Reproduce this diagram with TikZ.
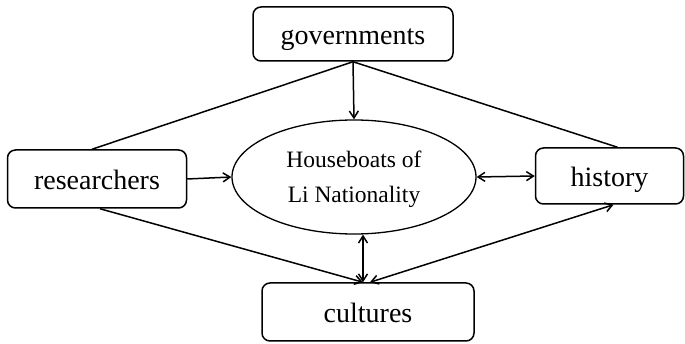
\documentclass[tikz,border=0pt]{standalone}
\usepackage{fontspec}
\setmainfont{Liberation Serif}
\usetikzlibrary{arrows.meta}
\usetikzlibrary{shapes.geometric}

\begin{document}
\begin{tikzpicture}
    [x=1pt,y=-1pt,
    actor/.style={rectangle,draw=black,rounded corners=8pt,line width=1.5pt,
      inner sep=0pt,text height=22pt,text depth=0pt,
      font=\fontsize{28}{30}\selectfont},
    core/.style={ellipse,draw=black,line width=1.3pt,inner sep=0pt,
      minimum width=244pt,minimum height=114pt,align=center,
      text height=52pt,text depth=0pt,font=\fontsize{23.5}{35}\selectfont},
    link/.style={line width=1.5pt},
    arr/.style={link,-{Straight Barb[length=7pt,width=9pt]}},
    biarr/.style={link,{Straight Barb[length=7pt,width=9pt]}-{Straight Barb[length=7pt,width=9pt]}}]

    \useasboundingbox (0,0) rectangle (685,344);

    \node (governments) at (353,34)   [actor,minimum width=200pt,minimum height=54pt] {governments};

    \node (researchers) at (97,179)   [actor,minimum width=179pt,minimum height=58pt] {researchers};

    \node (history)     at (609.5,176) [actor,minimum width=148pt,minimum height=56pt] {history};

    \node (cultures)    at (368,312)  [actor,minimum width=212pt,minimum height=58pt] {cultures};

    \node (houseboats)  at (354,177)  [core] {Houseboats of\\Li Nationality};

    \draw [link] (governments.south) -- ([xshift=-5pt]researchers.north);
    \draw [link] (governments.south) -- ([xshift=8pt]history.north);
    \draw [arr] (governments.south) -- (houseboats.north);
    \draw [arr] (researchers.east) -- (houseboats.west);
    \draw [biarr] (houseboats.east) -- (history.west);
    \draw [biarr] ([xshift=9pt]houseboats.south) -- ([xshift=-5pt]cultures.north);
    \draw [arr] ([xshift=3pt]researchers.south) -- ([xshift=-5pt]cultures.north);
    \draw [biarr] ([xshift=4pt]history.south) -- ([xshift=2pt]cultures.north);
\end{tikzpicture}
\end{document}
